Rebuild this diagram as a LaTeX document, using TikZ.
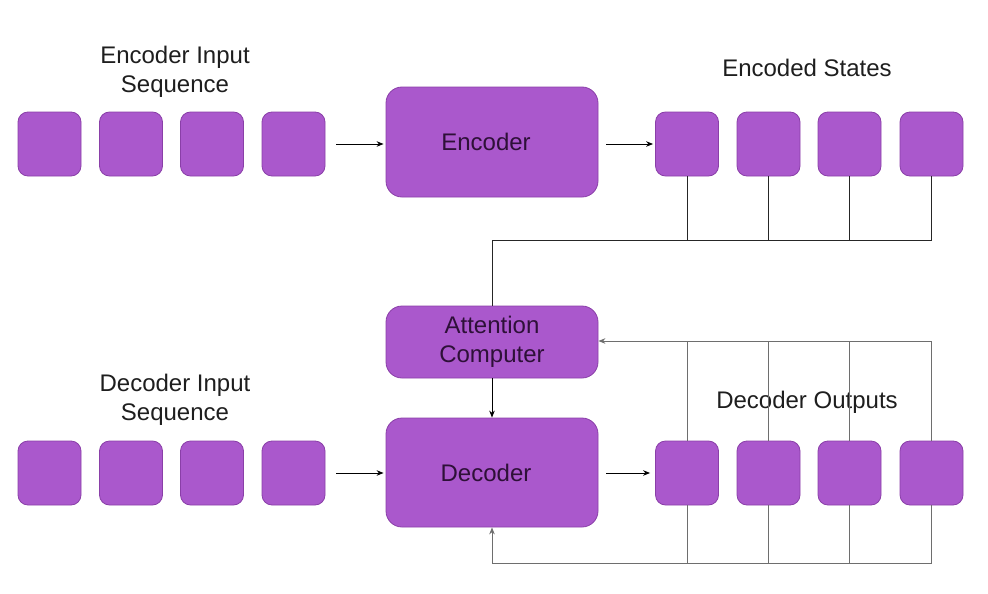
\documentclass[tikz,border=0pt]{standalone}
\usepackage{fontspec}
\setmainfont{Liberation Sans}
\usetikzlibrary{arrows.meta}
\definecolor{boxfill}{HTML}{AA58CC}
\definecolor{boxedge}{HTML}{8A3FA8}
\definecolor{innertext}{HTML}{2E1038}
\definecolor{labeltext}{HTML}{1E1E1E}
\definecolor{fbline}{HTML}{6E6E6E}
\tikzset{
  cell/.style={draw=boxedge, line width=0.8pt, fill=boxfill, rounded corners=10pt,
    minimum width=63pt, minimum height=64pt, inner sep=0pt},
  bigbox/.style={draw=boxedge, line width=0.8pt, fill=boxfill, rounded corners=16pt,
    minimum width=212pt, inner sep=0pt, text=innertext, align=center,
    font=\fontsize{24}{29}\selectfont},
  lbl/.style={text=labeltext, align=center, font=\fontsize{24}{29}\selectfont, inner sep=0pt},
  flow/.style={draw=black, line width=1pt, -{Stealth[length=7pt,width=5.5pt]}},
  link/.style={draw=black!85, line width=1pt},
  fb/.style={draw=fbline, line width=1pt},
  fbarrow/.style={draw=fbline, line width=1pt, -{Stealth[length=7pt,width=5.5pt]}},
}
\begin{document}
\begin{tikzpicture}[x=1pt,y=-1pt]
\useasboundingbox (0,0) rectangle (988,594);
% labels
\node[lbl] (lei) at (175,72) {Encoder Input\\Sequence};
\node[lbl] (les) at (807,68) {Encoded States};
\node[lbl] (ldi) at (175,400) {Decoder Input\\Sequence};
\node[lbl] (ldo) at (807,402) {Decoder Outputs};
% encoder row
\node[cell] (ei1) at (49.5,144) {};
\node[cell] (ei2) at (131,144) {};
\node[cell] (ei3) at (212,144) {};
\node[cell] (ei4) at (293.5,144) {};
\node[bigbox, minimum height=110pt] (enc) at (492,142) {Encoder\hspace*{12pt}};
\node[cell] (es1) at (687,144) {};
\node[cell] (es2) at (768.5,144) {};
\node[cell] (es3) at (849.5,144) {};
\node[cell] (es4) at (931.5,144) {};
% attention
\node[bigbox, minimum height=72pt] (att) at (492,342) {Attention\\Computer};
% decoder row
\node[cell] (di1) at (49.5,473) {};
\node[cell] (di2) at (131,473) {};
\node[cell] (di3) at (212,473) {};
\node[cell] (di4) at (293.5,473) {};
\node[bigbox, minimum height=109pt] (dec) at (492,472.5) {Decoder\hspace*{12pt}};
\node[cell] (do1) at (687,473) {};
\node[cell] (do2) at (768.5,473) {};
\node[cell] (do3) at (849.5,473) {};
\node[cell] (do4) at (931.5,473) {};
% coordinates
\coordinate (ebus) at (931.5,240);
\coordinate (tbus) at (931.5,341);
\coordinate (bbus) at (931.5,563);
% main flow arrows
\draw[flow] ([xshift=11pt]ei4.east) -- ([xshift=-2pt]enc.west |- ei4.east);
\draw[flow] ([xshift=8pt]enc.east |- es1.west) -- ([xshift=-2pt]es1.west);
\draw[flow] ([xshift=11pt]di4.east) -- ([xshift=-2pt]dec.west |- di4.east);
\draw[flow] ([xshift=8pt]dec.east |- do1.west) -- ([xshift=-5pt]do1.west);
\draw[flow] (att.south) -- (dec.north);
% encoded states bus
\draw[link] (es4.south) -- (ebus) -- (ebus -| att.north) -- (att.north);
\draw[link] (es1.south) -- (es1.south |- ebus);
\draw[link] (es2.south) -- (es2.south |- ebus);
\draw[link] (es3.south) -- (es3.south |- ebus);
% decoder outputs feedback (top)
\draw[fbarrow] (do4.north) -- (tbus) -- (att.east |- tbus);
\draw[fb] (do1.north) -- (do1.north |- tbus);
\draw[fb] (do2.north) -- (do2.north |- tbus);
\draw[fb] (do3.north) -- (do3.north |- tbus);
% decoder outputs feedback (bottom)
\draw[fbarrow] (do4.south) -- (bbus) -- (bbus -| dec.south) -- (dec.south);
\draw[fb] (do1.south) -- (do1.south |- bbus);
\draw[fb] (do2.south) -- (do2.south |- bbus);
\draw[fb] (do3.south) -- (do3.south |- bbus);
\end{tikzpicture}
\end{document}
